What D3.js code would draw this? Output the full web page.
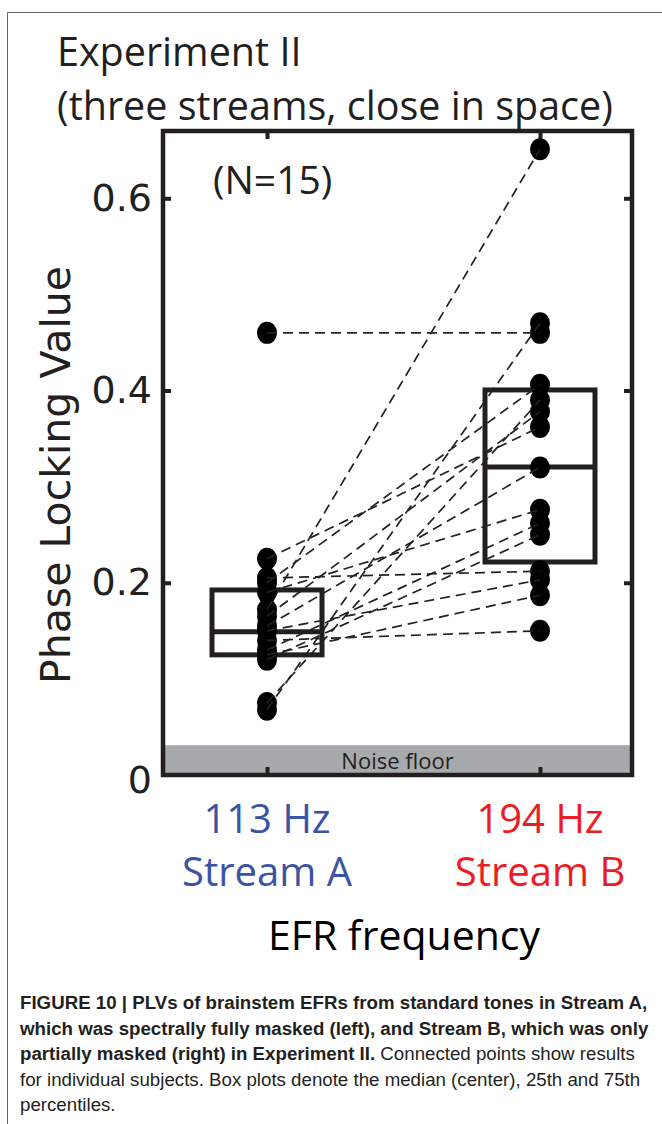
<!DOCTYPE html>
<html>
<head>
<meta charset="utf-8">
<script src="https://cdn.jsdelivr.net/npm/d3@7"></script>
<style>
  body { margin: 0; background: #fff; }
  svg { display: block; }
  .myriad { font-family: "Open Sans", "Noto Sans", sans-serif; }
  .caption { font-family: "Liberation Sans", Arial, sans-serif; font-size: 16px; fill: #231f20; }
</style>
</head>
<body>
<script>
// ---- data ----
const streams = ['Stream A', 'Stream B'];
const freqLabels = ['113 Hz', '194 Hz'];
const streamColors = ['#3a54a5', '#ec1c24'];

// one entry per subject (N = 15), PLV for stream A and stream B
const plvA = [0.460, 0.068, 0.172, 0.075, 0.225, 0.205, 0.200, 0.190, 0.165, 0.155, 0.150, 0.140, 0.130, 0.125, 0.120];
const plvB = [0.460, 0.470, 0.651, 0.390, 0.362, 0.212, 0.406, 0.276, 0.378, 0.320, 0.203, 0.150, 0.262, 0.187, 0.250];

// box plot stats: 25th, median, 75th percentile
const boxA = [0.125, 0.149, 0.1925];
const boxB = [0.2216, 0.3205, 0.4006];

const yTicks = [0, 0.2, 0.4, 0.6];
const noiseFloor = 0.031;

const W = 662, H = 1124;
const plot = { left: 163, right: 632, top: 131, bottom: 775 };
const dark = '#231f20';

const svg = d3.select('body').append('svg')
  .attr('width', W)
  .attr('height', H);

// thin outer frame (figure panel border)
svg.append('path')
  .attr('d', `M7.5,${H} V12.5 H${W}`)
  .attr('fill', 'none')
  .attr('stroke', '#666')
  .attr('stroke-width', 1);

const y = d3.scaleLinear()
  .domain([0, 0.67])
  .range([plot.bottom, plot.top]);

const x = d3.scalePoint()
  .domain(streams)
  .range([267, 540]);

// Titles
svg.append('text')
  .attr('class', 'myriad')
  .attr('x', 57).attr('y', 66)
  .style('font-size', '39.5px')
  .attr('fill', dark)
  .text('Experiment II');

svg.append('text')
  .attr('class', 'myriad')
  .attr('x', 57).attr('y', 120)
  .style('font-size', '39.5px')
  .attr('fill', dark)
  .text('(three streams, close in space)');

// Noise floor band
svg.append('rect')
  .attr('x', plot.left)
  .attr('y', y(noiseFloor))
  .attr('width', plot.right - plot.left)
  .attr('height', y(0) - y(noiseFloor))
  .attr('fill', '#a7a9ac');

svg.append('text')
  .attr('class', 'myriad')
  .attr('x', (plot.left + plot.right) / 2)
  .attr('y', 769)
  .attr('text-anchor', 'middle')
  .style('font-size', '22px')
  .attr('fill', dark)
  .text('Noise floor');

// Box plots
const boxHalf = 55;
[boxA, boxB].forEach((b, i) => {
  const cx = x(streams[i]);
  svg.append('rect')
    .attr('x', cx - boxHalf)
    .attr('y', y(b[2]))
    .attr('width', boxHalf * 2)
    .attr('height', y(b[0]) - y(b[2]))
    .attr('fill', 'none')
    .attr('stroke', dark)
    .attr('stroke-width', 5);
  svg.append('line')
    .attr('x1', cx - boxHalf).attr('x2', cx + boxHalf)
    .attr('y1', y(b[1])).attr('y2', y(b[1]))
    .attr('stroke', dark)
    .attr('stroke-width', 5);
});

// Subject points
const subjects = plvA.map((a, i) => ({ a, b: plvB[i] }));

svg.selectAll('.dotA')
  .data(subjects)
  .enter()
  .append('ellipse')
  .attr('cx', x(streams[0]))
  .attr('cy', d => y(d.a))
  .attr('rx', 10).attr('ry', 11)
  .attr('fill', '#000');

svg.selectAll('.dotB')
  .data(subjects)
  .enter()
  .append('ellipse')
  .attr('cx', x(streams[1]))
  .attr('cy', d => y(d.b))
  .attr('rx', 10).attr('ry', 11)
  .attr('fill', '#000');

// Dashed connecting lines
svg.selectAll('.link')
  .data(subjects)
  .enter()
  .append('line')
  .attr('x1', x(streams[0]))
  .attr('y1', d => y(d.a))
  .attr('x2', x(streams[1]))
  .attr('y2', d => y(d.b))
  .attr('stroke', '#222')
  .attr('stroke-width', 1.7)
  .attr('stroke-dasharray', '10,6');

// Axes frame
svg.append('rect')
  .attr('x', plot.left)
  .attr('y', plot.top)
  .attr('width', plot.right - plot.left)
  .attr('height', plot.bottom - plot.top)
  .attr('fill', 'none')
  .attr('stroke', dark)
  .attr('stroke-width', 4.5);

// Left axis with inward ticks
const leftAx = svg.append('g')
  .attr('transform', `translate(${plot.left},0)`)
  .call(d3.axisLeft(y).tickValues(yTicks).tickSize(-8).tickPadding(11)
    .tickFormat(d => d === 0 ? '0' : d3.format('.1f')(d)));
leftAx.select('.domain').remove();
leftAx.selectAll('.tick line').attr('stroke', dark).attr('stroke-width', 4);
leftAx.selectAll('.tick text')
  .attr('fill', dark)
  .style('font-family', '"DejaVu Sans", Verdana, sans-serif')
  .style('font-size', '38px');
leftAx.selectAll('.tick').filter(d => d === 0).select('line').remove();
leftAx.selectAll('.tick').filter(d => d === 0).select('text').attr('dy', '0.45em');

// Right axis ticks (inward, no labels)
const rightAx = svg.append('g')
  .attr('transform', `translate(${plot.right},0)`)
  .call(d3.axisRight(y).tickValues(yTicks.slice(1)).tickSize(-8).tickFormat(''));
rightAx.select('.domain').remove();
rightAx.selectAll('.tick line').attr('stroke', dark).attr('stroke-width', 4);

// Top and bottom ticks at the two streams
const topAx = svg.append('g')
  .attr('transform', `translate(0,${plot.top})`)
  .call(d3.axisTop(x).tickSize(-8).tickFormat(''));
topAx.select('.domain').remove();
topAx.selectAll('.tick line').attr('stroke', dark).attr('stroke-width', 4);

const bottomAx = svg.append('g')
  .attr('transform', `translate(0,${plot.bottom})`)
  .call(d3.axisBottom(x).tickSize(-8).tickFormat(''));
bottomAx.select('.domain').remove();
bottomAx.selectAll('.tick line').attr('stroke', dark).attr('stroke-width', 4);

// Category labels
streams.forEach((s, i) => {
  svg.append('text')
    .attr('class', 'myriad')
    .attr('x', x(s)).attr('y', 833)
    .attr('text-anchor', 'middle')
    .style('font-size', '40px')
    .attr('fill', streamColors[i])
    .text(freqLabels[i]);
  svg.append('text')
    .attr('class', 'myriad')
    .attr('x', x(s)).attr('y', 886)
    .attr('text-anchor', 'middle')
    .style('font-size', '40px')
    .attr('fill', streamColors[i])
    .text(s);
});

// N label
svg.append('text')
  .attr('class', 'myriad')
  .attr('x', 213).attr('y', 194)
  .style('font-size', '39px')
  .attr('fill', dark)
  .text('(N=15)');

// Axis titles
svg.append('text')
  .attr('transform', `translate(70,475) rotate(-90)`)
  .attr('text-anchor', 'middle')
  .style('font-family', '"DejaVu Sans", Verdana, sans-serif')
  .style('font-size', '41px')
  .attr('fill', dark)
  .text('Phase Locking Value');

svg.append('text')
  .attr('class', 'myriad')
  .attr('x', 404).attr('y', 950)
  .attr('text-anchor', 'middle')
  .style('font-size', '41px')
  .attr('fill', '#000')
  .text('EFR frequency');

// Caption
const capLines = [
  [['b', 'FIGURE 10 | PLVs of brainstem EFRs from standard tones in Stream A,']],
  [['b', 'which was spectrally fully masked (left), and Stream B, which was only']],
  [['b', 'partially masked (right) in Experiment II.'], ['n', ' Connected points show results']],
  [['n', 'for individual subjects. Box plots denote the median (center), 25th and 75th']],
  [['n', 'percentiles.']]
];
const cap = svg.append('text').attr('class', 'caption');
let firstLine;
capLines.forEach((parts, i) => {
  parts.forEach((p, j) => {
    const t = cap.append('tspan')
      .style('font-weight', p[0] === 'b' ? 'bold' : 'normal')
      .text(p[1]);
    if (j === 0) t.attr('x', 20).attr('y', 1009 + i * 25.5);
    if (i === 0) firstLine = t;
  });
});
// fit the caption so its first line spans the panel like the original
const w1 = firstLine.node().getComputedTextLength();
if (w1 > 0) cap.style('font-size', (16 * 628 / w1).toFixed(2) + 'px');
</script>
</body>
</html>
